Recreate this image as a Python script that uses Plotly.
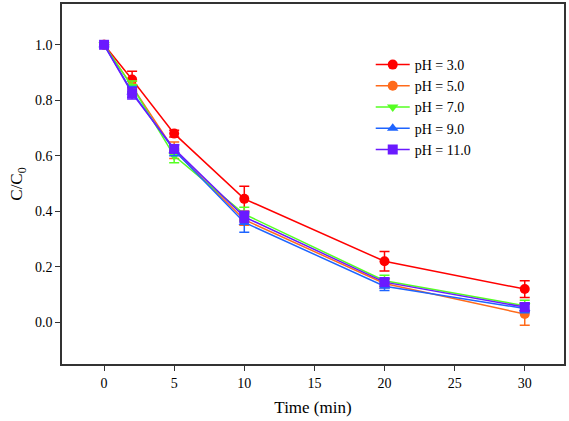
import plotly.graph_objects as go

time = [0, 2, 5, 10, 20, 30]
ph3 = [1.0, 0.875, 0.68, 0.445, 0.22, 0.12]
ph3_err = [0.0, 0.03, 0.012, 0.045, 0.035, 0.03]
ph5 = [1.0, 0.85, 0.62, 0.37, 0.14, 0.03]
ph5_err = [0.0, 0.02, 0.03, 0.02, 0.015, 0.04]
ph7 = [1.0, 0.85, 0.60, 0.39, 0.15, 0.06]
ph7_err = [0.0, 0.02, 0.025, 0.025, 0.02, 0.02]
ph9 = [1.0, 0.83, 0.62, 0.36, 0.13, 0.05]
ph9_err = [0.0, 0.02, 0.02, 0.035, 0.015, 0.015]
ph11 = [1.0, 0.825, 0.625, 0.38, 0.145, 0.055]
ph11_err = [0.0, 0.02, 0.015, 0.02, 0.015, 0.015]

labels = ["pH = 3.0", "pH = 5.0", "pH = 7.0", "pH = 9.0", "pH = 11.0"]
series = [ph3, ph5, ph7, ph9, ph11]
errors = [ph3_err, ph5_err, ph7_err, ph9_err, ph11_err]
colors = ["#FF0000", "#FF6A1A", "#55FF22", "#1E64FF", "#6A1AFF"]
symbols = ["circle", "circle", "triangle-down", "triangle-up", "square"]

fig = go.Figure()
for lab, ys, er, c, s in zip(labels, series, errors, colors, symbols):
    fig.add_trace(go.Scatter(
        x=time, y=ys, name=lab, mode="lines+markers",
        line=dict(color=c, width=1.5),
        marker=dict(color=c, symbol=s, size=10),
        error_y=dict(type="data", array=er, visible=True, color=c, thickness=1.5, width=5),
    ))

font = "Liberation Serif"
fig.update_layout(
    width=569, height=421,
    margin=dict(l=62, r=5, t=2, b=57),
    paper_bgcolor="white", plot_bgcolor="white",
    font=dict(family=font, size=14, color="black"),
    showlegend=True,
    legend=dict(x=0.615, y=0.875, xanchor="left", yanchor="top",
                font=dict(family=font, size=14, color="black"), bgcolor="rgba(0,0,0,0)",
                tracegroupgap=0, itemwidth=34),
)
fig.update_xaxes(
    range=[-3, 32.8], tickvals=[0, 5, 10, 15, 20, 25, 30],
    tickfont=dict(family=font, size=14, color="black"),
    showline=True, linecolor="#333", linewidth=1.5, mirror=True,
    ticks="outside", ticklen=5, tickcolor="#333", showgrid=False, zeroline=False,
    title=dict(text="Time (min)", font=dict(family=font, size=17), standoff=12),
)
fig.update_yaxes(
    range=[-0.15, 1.147], tickvals=[0, 0.2, 0.4, 0.6, 0.8, 1.0], tickformat=".1f",
    tickfont=dict(family=font, size=14, color="black"),
    showline=True, linecolor="#333", linewidth=1.5, mirror=True,
    ticks="outside", ticklen=5, tickcolor="#333", showgrid=False, zeroline=False,
    title=dict(text="C/C<sub>0</sub>", font=dict(family=font, size=17), standoff=8),
)
fig.write_html("out.html", post_script="document.body.style.margin='0';",
               config={"displayModeBar": False})
